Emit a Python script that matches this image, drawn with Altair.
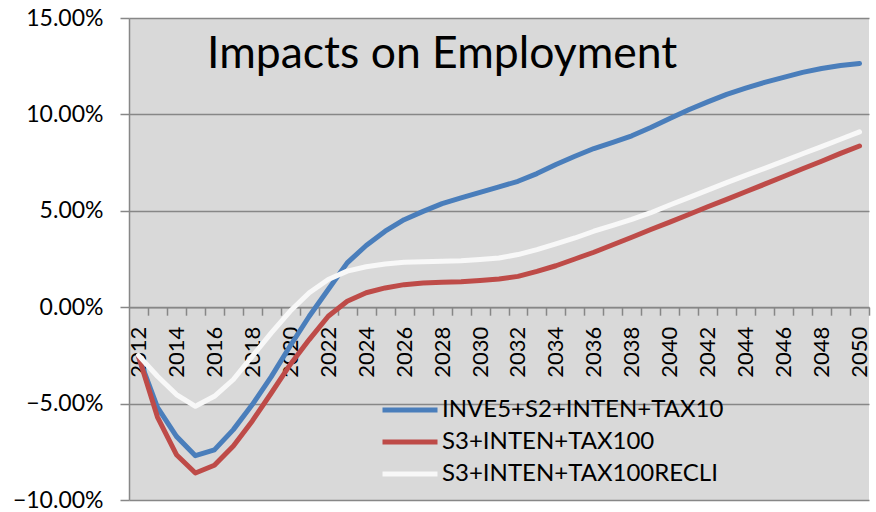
import altair as alt
import pandas as pd

TITLE = "Impacts on Employment"
years = list(range(2012, 2051))
series_names = ["INVE5+S2+INTEN+TAX10", "S3+INTEN+TAX100", "S3+INTEN+TAX100RECLI"]
series_colors = ["#4a7ebb", "#be4b48", "#f8f8f8"]

blue = [-2.55, -5.2, -6.7, -7.7, -7.4, -6.35, -5.05, -3.6, -2.0, -0.47, 0.92, 2.3, 3.2,
        3.94, 4.54, 4.97, 5.37, 5.67, 5.96, 6.24, 6.53, 6.93, 7.4, 7.83, 8.23,
        8.55, 8.89, 9.32, 9.79, 10.24, 10.65, 11.04, 11.36, 11.66, 11.92, 12.18, 12.38, 12.54, 12.64]
red = [-2.55, -5.7, -7.65, -8.6, -8.2, -7.2, -5.9, -4.45, -2.97, -1.68, -0.47, 0.31, 0.75,
       1.0, 1.17, 1.25, 1.29, 1.32, 1.38, 1.46, 1.6, 1.86, 2.15, 2.5, 2.85,
       3.24, 3.63, 4.03, 4.41, 4.81, 5.21, 5.59, 5.99, 6.38, 6.78, 7.18, 7.57, 7.98, 8.36]
white = [-2.5, -3.58, -4.53, -5.14, -4.62, -3.75, -2.54, -1.33, -0.2, 0.75, 1.44, 1.87, 2.1,
         2.24, 2.33, 2.36, 2.38, 2.41, 2.47, 2.55, 2.73, 2.99, 3.28, 3.59, 3.94,
         4.25, 4.55, 4.9, 5.3, 5.68, 6.07, 6.46, 6.84, 7.2, 7.58, 7.96, 8.33, 8.71, 9.09]
y_ticks = [-0.10, -0.05, 0.0, 0.05, 0.10, 0.15]

rows = []
for name, vals in zip(series_names, [blue, red, white]):
    for yr, v in zip(years, vals):
        rows.append({"year": yr, "value": v / 100.0, "series": name})
df = pd.DataFrame(rows)

W, H = 740, 482
FONT = "Lato"
GRAY = "#878787"

lines = alt.Chart(df).mark_line(strokeWidth=5, strokeJoin="round", strokeCap="round").encode(
    x=alt.X("year:Q",
            scale=alt.Scale(domain=[2011.5, 2050.5], nice=False, zero=False),
            axis=alt.Axis(values=years, format="d", tickOffset=9.5, labelOffset=-9.5,
                          labelExpr="datum.value % 2 == 0 ? datum.label : ''",
                          labelAngle=270, labelFontSize=22, labelFont=FONT, labelColor="black",
                          labelPadding=11, tickSize=8, tickColor=GRAY, tickWidth=1.5,
                          domainColor=GRAY, domainWidth=1.5, grid=False, title=None,
                          offset=-(H * 0.4), labelOverlap=False, labelFlush=False)),
    y=alt.Y("value:Q",
            scale=alt.Scale(domain=[-0.10, 0.15], nice=False),
            axis=alt.Axis(values=y_ticks, format=".2%", labelFontSize=23, labelFont=FONT,
                          labelColor="black", labelPadding=17, tickSize=9, tickColor=GRAY,
                          tickWidth=1.5, domainColor=GRAY, domainWidth=1.5, gridColor=GRAY,
                          gridWidth=1.5, title=None)),
    color=alt.Color("series:N",
                    scale=alt.Scale(domain=series_names, range=series_colors),
                    sort=series_names,
                    legend=alt.Legend(title=None, orient="none", legendX=269, legendY=380,
                                      symbolType="M-5,0H5", symbolSize=121, symbolStrokeWidth=5,
                                      symbolFillColor="transparent",
                                      labelFontSize=24, labelFont=FONT, labelColor="black",
                                      labelLimit=0, labelOffset=20, rowPadding=8, padding=0)),
    order=alt.Order("series_order:Q"),
).transform_calculate(
    series_order="indexof(" + str(series_names) + ", datum.series)"
)

title = alt.Chart(pd.DataFrame({"t": [TITLE]})).mark_text(
    font=FONT, fontSize=44.5, align="left", baseline="alphabetic", color="black"
).encode(text="t:N", x=alt.value(78), y=alt.value(50))

chart = alt.layer(lines, title).properties(
    width=W, height=H,
    autosize=alt.AutoSizeParams(type="none"),
    padding={"left": 129, "top": 18, "right": 7, "bottom": 12},
    background="white",
).configure_view(stroke=None, fill="#d9d9d9")

chart.save("out.html", embed_options={"renderer": "svg", "actions": False})
